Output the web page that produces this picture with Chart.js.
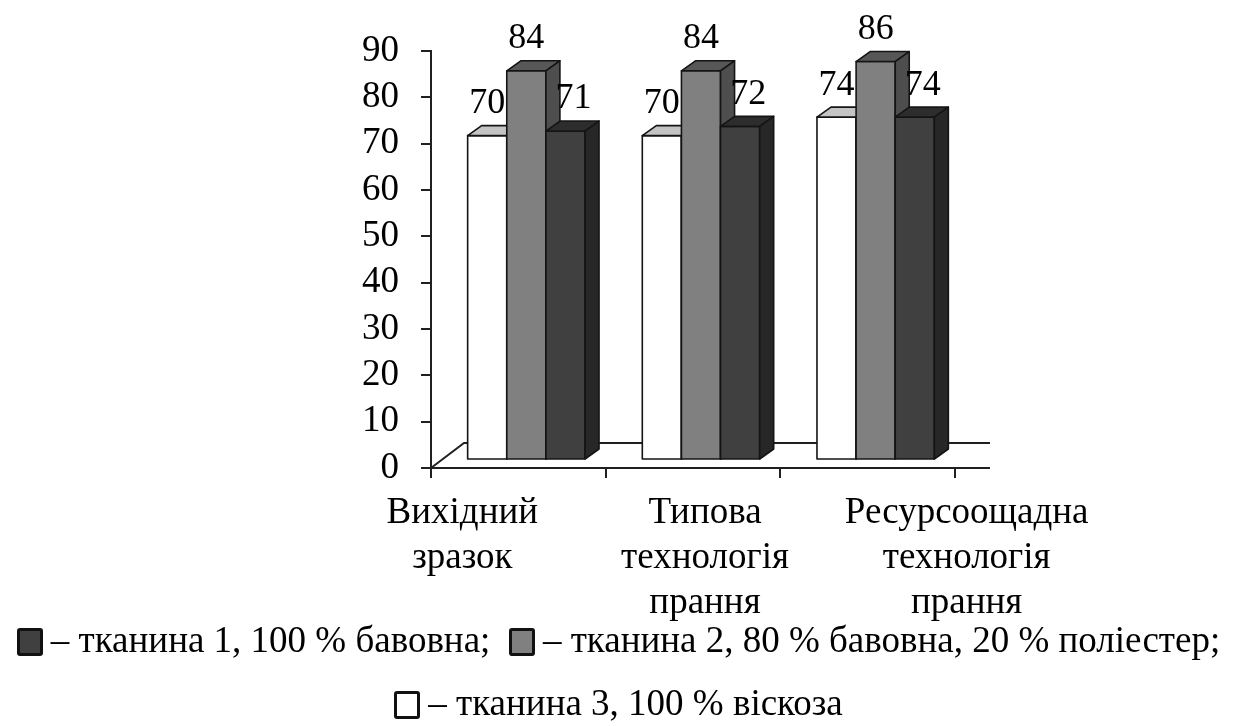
<!DOCTYPE html>
<html>
<head>
<meta charset="utf-8">
<script src="https://cdn.jsdelivr.net/npm/chart.js@4.4.1/dist/chart.umd.min.js"></script>
<style>
  html, body { margin: 0; padding: 0; background: #ffffff; }
  #wrap { position: relative; width: 1237px; height: 726px; overflow: hidden; }
  #c { position: absolute; left: 0; top: 0; }
  .legend-line {
    position: absolute; left: 0; width: 1237px; text-align: center;
    font-family: "Liberation Serif", "Times New Roman", serif; font-size: 37px;
    line-height: 42px; color: #000; white-space: nowrap;
  }
  .sw {
    display: inline-block; width: 26px; height: 28px; box-sizing: border-box;
    border: 3px solid #111; border-radius: 3px; vertical-align: -4px; margin-right: 8px;
  }
</style>
</head>
<body>
<div id="wrap">
  <canvas id="c" width="1237" height="726"></canvas>
  <div class="legend-line" id="legend1" style="top:619px"></div>
  <div class="legend-line" id="legend2" style="top:682px"></div>
</div>
<script>
// Categories (multi-line axis labels)
const categories = [
  ['Вихідний', 'зразок'],
  ['Типова', 'технологія', 'прання'],
  ['Ресурсоощадна', 'технологія', 'прання']
];

// Series values, left-to-right inside each group
const fabric3Viscose = [70, 70, 74];
const fabric2Blend   = [84, 84, 86];
const fabric1Cotton  = [71, 72, 74];

// Series names used in the legend
const seriesNames = [
  'тканина 3, 100 % віскоза',
  'тканина 2, 80 % бавовна, 20 % поліестер',
  'тканина 1, 100 % бавовна'
];

// Y axis range and tick step
const yMin = 0;
const yMax = 90;
const yStep = 10;

// ---- styling ----
const FONT = '"Liberation Serif", "Times New Roman", serif';
const FONT_SIZE = 37;
const FACES = [
  { front: '#ffffff', top: '#c4c4c4', side: '#9c9c9c' },
  { front: '#808080', top: '#575757', side: '#4e4e4e' },
  { front: '#404040', top: '#2d2d2d', side: '#272727' }
];
const EDGE = '#141414';
const SHIFT = { x: 8, y: -8 };    // front face of the columns sits behind the axis plane
const DEPTH = { x: 14, y: -10 };  // column depth
const FLOOR = { x: 33, y: -25 };  // floor depth
const FLOOR_RIGHT = 990;
const CAT_LABEL_DX = [-56, 12, 99];
const CAT_LINE_H = 45;
const VALUE_LABEL_DX = [0, 0, 8];
const VALUE_LABEL_GAP = 22;

function poly(ctx, pts, fill) {
  ctx.beginPath();
  ctx.moveTo(pts[0][0], pts[0][1]);
  for (let i = 1; i < pts.length; i++) ctx.lineTo(pts[i][0], pts[i][1]);
  ctx.closePath();
  ctx.fillStyle = fill;
  ctx.fill();
  ctx.stroke();
}

const floorPlugin = {
  id: 'floor3d',
  beforeDatasetsDraw(chart) {
    const { ctx, chartArea, scales } = chart;
    const y0 = scales.y.getPixelForValue(0);
    const x0 = chartArea.left;
    ctx.save();
    ctx.strokeStyle = '#202020';
    ctx.lineWidth = 2;
    ctx.beginPath();
    ctx.moveTo(x0, y0);
    ctx.lineTo(FLOOR_RIGHT, y0);
    ctx.moveTo(x0, y0);
    ctx.lineTo(x0 + FLOOR.x, y0 + FLOOR.y);
    ctx.lineTo(FLOOR_RIGHT, y0 + FLOOR.y);
    ctx.stroke();
    ctx.restore();
  }
};

const columnsPlugin = {
  id: 'columns3d',
  afterDatasetsDraw(chart) {
    const { ctx } = chart;
    const metas = chart.data.datasets.map((_, i) => chart.getDatasetMeta(i));
    ctx.save();
    ctx.lineWidth = 1.6;
    ctx.strokeStyle = EDGE;
    ctx.lineJoin = 'round';
    for (let c = 0; c < categories.length; c++) {
      metas.forEach((meta, d) => {
        const bar = meta.data[c];
        const f = FACES[d];
        const l = bar.x - bar.width / 2 + SHIFT.x;
        const r = bar.x + bar.width / 2 + SHIFT.x;
        const t = bar.y + SHIFT.y;
        const b = bar.base + SHIFT.y;
        poly(ctx, [[l, b], [l, t], [r, t], [r, b]], f.front);
        poly(ctx, [[l, t], [l + DEPTH.x, t + DEPTH.y], [r + DEPTH.x, t + DEPTH.y], [r, t]], f.top);
        poly(ctx, [[r, t], [r + DEPTH.x, t + DEPTH.y], [r + DEPTH.x, b + DEPTH.y], [r, b]], f.side);
      });
    }
    // value labels
    ctx.fillStyle = '#000';
    ctx.font = (FONT_SIZE - 1) + 'px ' + FONT;
    ctx.textAlign = 'center';
    ctx.textBaseline = 'middle';
    metas.forEach((meta, d) => {
      const values = chart.data.datasets[d].data;
      meta.data.forEach((bar, c) => {
        const backTop = bar.y + SHIFT.y + DEPTH.y;
        ctx.fillText(String(values[c]), bar.x + SHIFT.x + VALUE_LABEL_DX[d], backTop - VALUE_LABEL_GAP);
      });
    });
    // category labels
    ctx.font = FONT_SIZE + 'px ' + FONT;
    const xs = chart.scales.x;
    const y0 = chart.scales.y.getPixelForValue(0);
    categories.forEach((lines, c) => {
      const cx = xs.getPixelForValue(c) + CAT_LABEL_DX[c];
      lines.forEach((line, k) => {
        ctx.fillText(line, cx, y0 + CAT_LINE_H * (k + 1));
      });
    });
    ctx.restore();
  }
};

new Chart(document.getElementById('c'), {
  type: 'bar',
  data: {
    labels: categories.map(l => l.join(' ')),
    datasets: [
      { label: seriesNames[0], data: fabric3Viscose },
      { label: seriesNames[1], data: fabric2Blend },
      { label: seriesNames[2], data: fabric1Cotton }
    ].map(ds => Object.assign(ds, {
      backgroundColor: 'rgba(0,0,0,0)', borderWidth: 0,
      categoryPercentage: 0.672, barPercentage: 1.0
    }))
  },
  options: {
    responsive: false,
    animation: false,
    devicePixelRatio: 1,
    layout: { padding: { left: 0, right: 282, top: 51, bottom: 248 } },
    plugins: { legend: { display: false }, tooltip: { enabled: false } },
    scales: {
      x: {
        type: 'category',
        offset: true,
        border: { display: false },
        grid: { display: true, offset: true, drawOnChartArea: false, drawTicks: true,
                tickLength: 10, color: '#202020', lineWidth: 2 },
        ticks: { display: false },
        afterFit(scale) { scale.height = 10; }
      },
      y: {
        min: yMin, max: yMax,
        border: { display: true, color: '#202020', width: 2 },
        grid: { drawOnChartArea: false, drawTicks: true, tickLength: 10, color: '#202020', lineWidth: 2 },
        ticks: { stepSize: yStep, autoSkip: false, color: '#000', padding: 22,
                 font: { family: FONT, size: FONT_SIZE, lineHeight: 1 } },
        afterFit(scale) { scale.width = 431; }
      }
    }
  },
  plugins: [floorPlugin, columnsPlugin]
});

// legend (real text)
function swatch(color) {
  return '<span class="sw" style="background:' + color + '"></span>';
}
document.getElementById('legend1').innerHTML =
  swatch(FACES[2].front) + '– ' + seriesNames[2] + ';&nbsp; ' +
  swatch(FACES[1].front) + '– ' + seriesNames[1] + ';';
document.getElementById('legend2').innerHTML =
  swatch(FACES[0].front) + '– ' + seriesNames[0];
</script>
</body>
</html>
